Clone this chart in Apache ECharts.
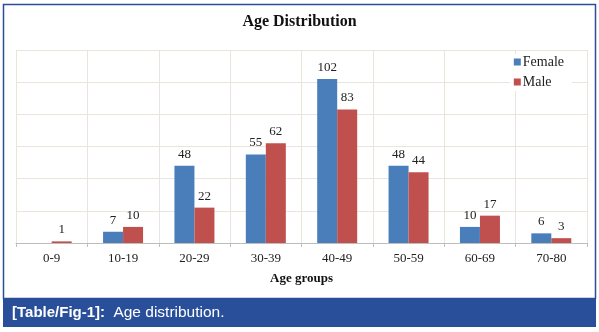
<!DOCTYPE html>
<html>
<head>
<meta charset="utf-8">
<script src="https://cdn.jsdelivr.net/npm/echarts@6/dist/echarts.min.js"></script>
<style>
  html, body { margin: 0; padding: 0; background: #ffffff; }
  #chart { width: 599px; height: 332px; }
</style>
</head>
<body>
<div id="chart"></div>
<script>
// Age groups and patient counts per sex
const ageGroups = ['0-9', '10-19', '20-29', '30-39', '40-49', '50-59', '60-69', '70-80'];
const female = [0, 7, 48, 55, 102, 48, 10, 6];
const male = [1, 10, 22, 62, 83, 44, 17, 3];
const yTicks = { min: 0, max: 120, interval: 20 };

const serif = '"Liberation Serif", "Times New Roman", serif';
const sans = '"Liberation Sans", Arial, Helvetica, sans-serif';

const valueLabel = {
  show: true,
  position: 'top',
  distance: 5,
  fontFamily: serif,
  fontSize: 13,
  color: '#222',
  formatter: p => (p.value ? String(p.value) : '')
};

const chart = echarts.init(document.getElementById('chart'), null, { renderer: 'canvas' });
chart.setOption({
  backgroundColor: '#ffffff',
  animation: false,
  title: {
    text: 'Age Distribution',
    left: 'center',
    top: 9,
    textStyle: { fontFamily: serif, fontSize: 16, fontWeight: 'bold', color: '#111' }
  },
  legend: {
    orient: 'vertical',
    right: 27,
    top: 54,
    icon: 'rect',
    itemWidth: 7,
    itemHeight: 7,
    itemGap: 6,
    backgroundColor: '#ffffff',
    padding: [1, 8, 2, 4],
    textStyle: { fontFamily: serif, fontSize: 14, color: '#222', padding: [0, 0, 0, -3] },
    data: ['Female', 'Male']
  },
  grid: { left: 16, right: 12, top: 50, bottom: 89 },
  xAxis: {
    type: 'category',
    data: ageGroups,
    name: 'Age groups',
    nameLocation: 'middle',
    nameGap: 29,
    nameTextStyle: { fontFamily: serif, fontSize: 13, fontWeight: 'bold', color: '#111' },
    axisLine: { lineStyle: { color: '#bdbdbd' } },
    axisTick: { show: true, length: 4, lineStyle: { color: '#bdbdbd' } },
    axisLabel: { fontFamily: serif, fontSize: 13, color: '#222', margin: 9 },
    splitLine: { show: true, lineStyle: { color: '#e9e5dc' } }
  },
  yAxis: {
    type: 'value',
    min: yTicks.min,
    max: yTicks.max,
    interval: yTicks.interval,
    axisLine: { show: false },
    axisTick: { show: false },
    axisLabel: { show: false },
    splitLine: { lineStyle: { color: '#e9e5dc' } }
  },
  series: [
    {
      name: 'Female',
      type: 'bar',
      data: female,
      barWidth: 20,
      barGap: '0%',
      itemStyle: { color: '#4a7ebb' },
      label: valueLabel
    },
    {
      name: 'Male',
      type: 'bar',
      data: male,
      barWidth: 20,
      barGap: '0%',
      itemStyle: { color: '#c0504d' },
      label: valueLabel
    }
  ],
  graphic: [
    {
      type: 'rect',
      shape: { x: 3.5, y: 4.5, width: 592, height: 294 },
      style: { fill: 'none', stroke: '#2a4f96', lineWidth: 1.5 },
      z: 100
    },
    {
      type: 'rect',
      shape: { x: 3, y: 298, width: 593, height: 29 },
      style: { fill: '#2a4f9a' },
      z: 100
    },
    {
      type: 'text',
      left: 12,
      top: 305,
      z: 101,
      style: {
        text: '{b|[Table/Fig-1]:}  {n|Age distribution.}',
        fill: '#ffffff',
        font: '15px ' + sans,
        rich: {
          b: { fontFamily: sans, fontSize: 15, fontWeight: 'bold', fill: '#ffffff' },
          n: { fontFamily: sans, fontSize: 15.5, fill: '#ffffff' }
        }
      }
    }
  ]
});
</script>
</body>
</html>
